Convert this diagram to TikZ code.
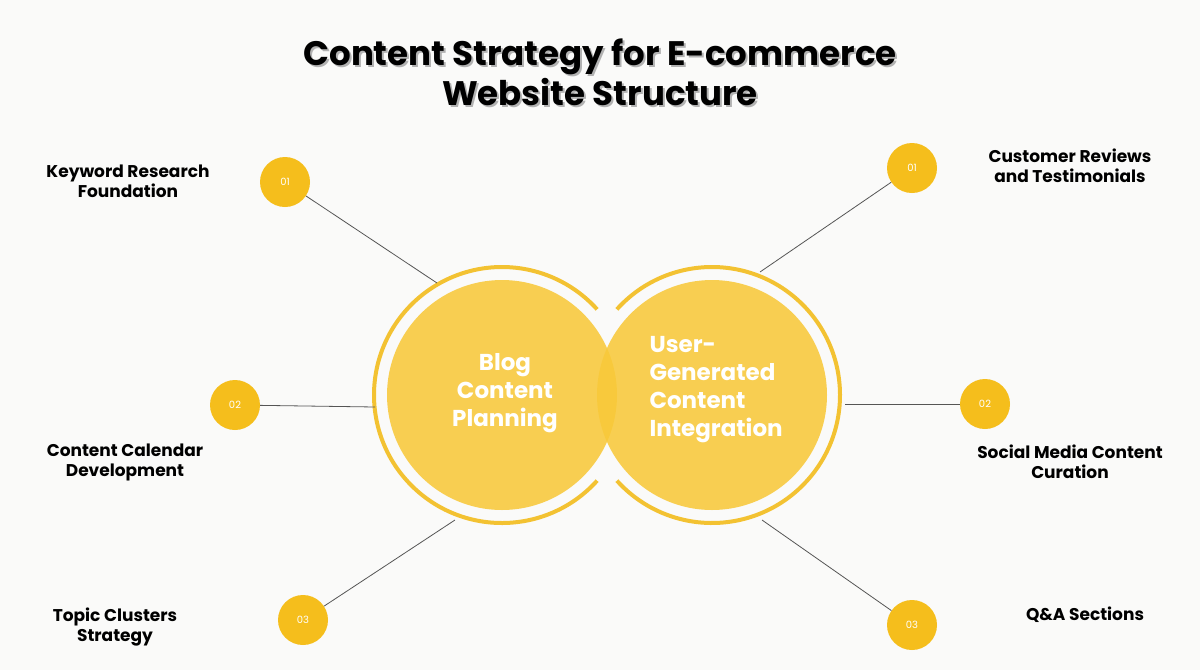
\documentclass[tikz,border=0pt]{standalone}
\usepackage{fontspec}
\setmainfont{Poppins}
\usetikzlibrary{calc}
\definecolor{bg}{HTML}{FAFAF9}
\definecolor{ylw}{HTML}{F8C93A}
\definecolor{ylwd}{HTML}{F5BE1C}
\definecolor{ring}{HTML}{F3C232}
\definecolor{ln}{HTML}{555555}
\tikzset{
  dot/.style={circle,fill=ylwd,minimum size=50pt,inner sep=0pt,text=white,font=\fontsize{10}{12}\selectfont},
  lab/.style={align=center,font=\bfseries\fontsize{17}{20}\selectfont,text=black},
  conn/.style={draw=ln,line width=0.8pt},
  big/.style={circle,fill=ylw,fill opacity=0.88,minimum size=230pt,inner sep=0pt},
  ctext/.style={text=white,font=\fontsize{23}{28}\selectfont\bfseries}
}
\begin{document}
\begin{tikzpicture}[x=1pt,y=-1pt]
\fill[bg] (0,0) rectangle (1200,670);
\useasboundingbox (0,0) rectangle (1200,670);
% title
\foreach \dx/\c in {2/gray!60,0/black}{
\node[text=\c,font=\bfseries\fontsize{34}{40}\selectfont,align=center] at (600+\dx,72+\dx) {Content Strategy for E-commerce\\Website Structure};}
% big circles
\node[big] (L) at (502,395) {};
\node[big] (R) at (712,395) {};
\draw[ring,line width=4pt] (L.center) ++(42:128) arc[start angle=42,end angle=318,radius=128];
\draw[ring,line width=4pt] (R.center) ++(222:128) arc[start angle=-138,end angle=138,radius=128];
\node[ctext,align=center] at (505,393) {Blog\\Content\\Planning};
\node[ctext,align=left,anchor=west] at (646,390) {User-\\Generated\\Content\\Integration};
% small dots
\node[dot] (l1) at (285,182) {01};
\node[dot] (l2) at (235,405) {02};
\node[dot] (l3) at (303,620) {03};
\node[dot] (r1) at (912,168) {01};
\node[dot] (r2) at (985,404) {02};
\node[dot] (r3) at (912,625) {03};
\coordinate (a1) at (437,283);
\coordinate (a2) at (375,407);
\coordinate (a3) at (455,520);
\coordinate (b1) at (760,272);
\coordinate (b2) at (845,404);
\coordinate (b3) at (762,520);
\draw[conn] (l1) -- (a1);
\draw[conn] (l2) -- (a2);
\draw[conn] (l3) -- (a3);
\draw[conn] (r1) -- (b1);
\draw[conn] (r2) -- (b2);
\draw[conn] (r3) -- (b3);
% labels
\node[lab] (t1) at (128,181) {Keyword Research\\Foundation};
\node[lab] (t2) at (125,462) {Content Calendar\\Development};
\node[lab] (t3) at (115,627) {Topic Clusters\\Strategy};
\node[lab] (t4) at (1070,166) {Customer Reviews\\and Testimonials};
\node[lab] (t5) at (1070,462) {Social Media Content\\Curation};
\node[lab] (t6) at (1085,615) {Q\&A Sections};
\end{tikzpicture}
\end{document}
